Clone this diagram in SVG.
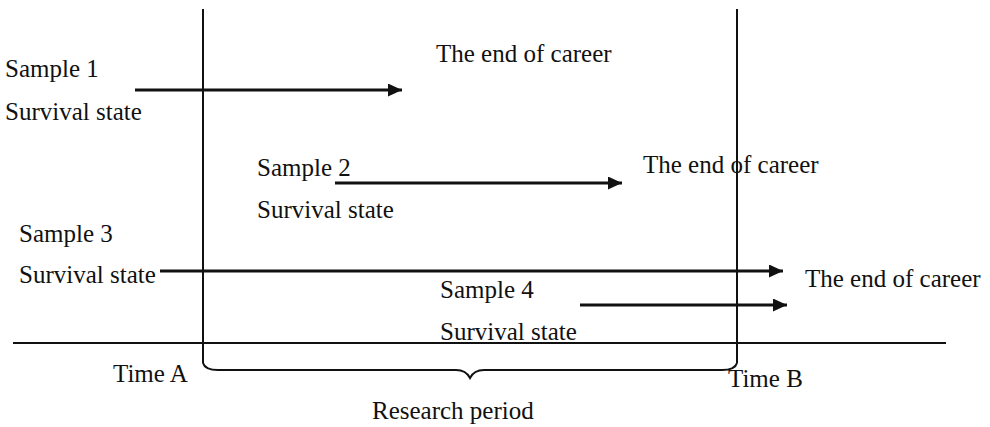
<svg xmlns="http://www.w3.org/2000/svg" width="990" height="427" viewBox="0 0 990 427">
<style>
text{font-family:"Liberation Serif","Times New Roman",serif;font-size:25px;fill:#111}
.ln{stroke:#111;stroke-width:2;fill:none}
.ar{stroke:#111;stroke-width:3;fill:none}
</style>
<defs>
<marker id="ah" markerWidth="14" markerHeight="13" refX="14" refY="6.5" orient="auto" markerUnits="userSpaceOnUse">
<path d="M0,0 L14,6.5 L0,13 Z" fill="#111"/>
</marker>
</defs>
<g id="frame">
<line class="ln" x1="203" y1="9" x2="203" y2="363"/>
<line class="ln" x1="737" y1="9" x2="737" y2="363"/>
<line class="ln" x1="13" y1="343" x2="946" y2="343"/>
<path class="ln" d="M203,363 Q205,370 218,370 L456,370 Q466,370 470,378 Q474,370 484,370 L722,370 Q735,370 737,363"/>
</g>
<g id="connectors">
<line class="ar" x1="135" y1="90" x2="402" y2="90" marker-end="url(#ah)"/>
<line class="ar" x1="335" y1="183" x2="622" y2="183" marker-end="url(#ah)"/>
<line class="ar" x1="160" y1="271" x2="783" y2="271" marker-end="url(#ah)"/>
<line class="ar" x1="580" y1="305" x2="787" y2="305" marker-end="url(#ah)"/>
</g>
<g id="sample1">
<text x="5" y="77">Sample 1</text>
<text x="5" y="120">Survival state</text>
<text x="436" y="62">The end of career</text>
</g>
<g id="sample2">
<text x="257" y="176">Sample 2</text>
<text x="257" y="218">Survival state</text>
<text x="643" y="173">The end of career</text>
</g>
<g id="sample3">
<text x="19" y="242">Sample 3</text>
<text x="19" y="283">Survival state</text>
<text x="805" y="287">The end of career</text>
</g>
<g id="sample4">
<text x="440" y="298">Sample 4</text>
<text x="440" y="340">Survival state</text>
</g>
<g id="labels">
<text x="113" y="382">Time A</text>
<text x="728" y="387">Time B</text>
<text x="372" y="419">Research period</text>
</g>
</svg>
